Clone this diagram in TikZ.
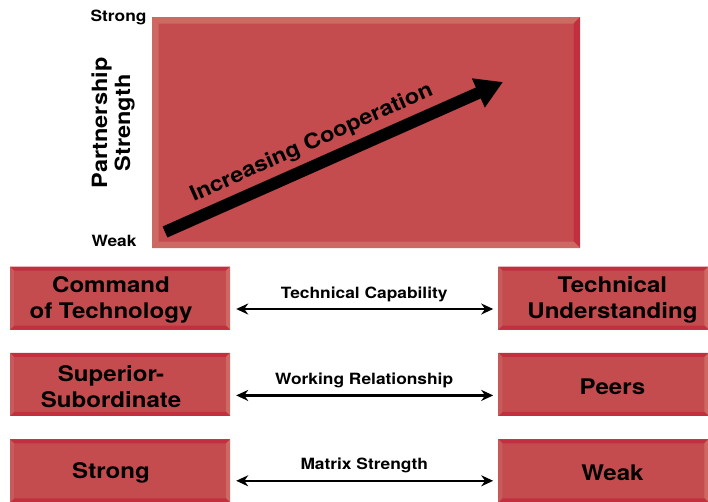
\documentclass[tikz,border=0pt]{standalone}
\usepackage{fontspec}
\setmainfont{TeX Gyre Heros}[FakeStretch=1.12]
\usetikzlibrary{positioning,arrows.meta}
\definecolor{BoxRed}{HTML}{C44B4E}
\definecolor{BevelLight}{HTML}{CD6963}
\definecolor{BevelMid}{HTML}{C95A5B}
\definecolor{BevelDark}{HTML}{C2303F}

\begin{document}
\begin{tikzpicture}[x=1pt,y=-1pt,>=Stealth,node distance=23pt]
  \useasboundingbox (0,0) rectangle (708,501);
  \tikzset{
    bevel/.style n args={5}{fill=BoxRed,path picture={
      \path (path picture bounding box.north west) coordinate (bnw)
            (path picture bounding box.north east) coordinate (bne)
            (path picture bounding box.south east) coordinate (bse)
            (path picture bounding box.south west) coordinate (bsw);
      \fill[#2] (bnw) -- (bne) -- ([shift={(-#1,-#1)}]bne) -- ([shift={(#1,-#1)}]bnw) -- cycle;
      \fill[#3] (bne) -- (bse) -- ([shift={(-#1,#1)}]bse) -- ([shift={(-#1,-#1)}]bne) -- cycle;
      \fill[#4] (bse) -- (bsw) -- ([shift={(#1,#1)}]bsw) -- ([shift={(-#1,#1)}]bse) -- cycle;
      \fill[#5] (bsw) -- (bnw) -- ([shift={(#1,-#1)}]bnw) -- ([shift={(#1,#1)}]bsw) -- cycle;
    }},
    fieldbox/.style={bevel={6.5pt}{BevelLight}{BevelDark}{BevelLight}{BevelLight},
      minimum width=428pt,minimum height=231pt,inner sep=0pt},
    sidebox/.style={bevel={4pt}{BevelDark}{BevelLight}{BevelDark}{BevelMid},
      minimum width=220pt,minimum height=63pt,inner sep=0pt},
    lefttext/.style={label={[boxtext,xshift=-9pt]center:#1}},
    righttext/.style={label={[boxtext,xshift=9pt]center:#1}},
    boxtext/.style={align=center,yshift=-2pt,font=\fontsize{21.5}{26}\selectfont\bfseries},
    linklbl/.style={font=\fontsize{15.5}{18}\selectfont\bfseries},
    pair/.style={{Stealth[length=12pt,width=11pt]}-{Stealth[length=12pt,width=11pt]},
      line width=2.2pt,shorten <=6pt,shorten >=5pt},
    coop/.style={-{Triangle[length=27pt,width=30pt]},line width=12pt}
  }
  \node[fieldbox] (field) at (366,132.5) {};
  \node[sidebox,lefttext={Command\\of Technology}] (cmd) at (120,298) {};
  \node[sidebox,below=of cmd,lefttext={Superior-\\Subordinate}] (sup) {};
  \node[sidebox,below=of sup,lefttext=Strong] (strg) {};
  \node[sidebox,minimum width=210pt,right=268pt of cmd,righttext={Technical\\Understanding}] (und) {};
  \node[sidebox,minimum width=210pt,right=268pt of sup,righttext=Peers] (peer) {};
  \node[sidebox,minimum width=210pt,right=268pt of strg,righttext=Weak] (weak) {};
  % axis of the upper box
  \node[linklbl,anchor=east] (top) at (150,17) {Strong};
  \node[linklbl,anchor=east] (bot) at (140,241) {Weak};
  \node[rotate=90,align=center,font=\fontsize{21}{23}\selectfont\bfseries] (pstr) at (113,123) {Partnership\\Strength};
  \coordinate (coopS) at (165,232);
  \coordinate (coopE) at (503,82);
  \draw[coop] (coopS) -- (coopE)
    node[sloped,pos=0.46,above=2pt,font=\fontsize{21}{24}\selectfont\bfseries] {Increasing Cooperation};
  % links between the columns
  \draw[pair] ([yshift=-11pt]cmd.east) -- ([yshift=-11pt]und.west)
    node[midway,above=3pt,linklbl] {Technical Capability};
  \draw[pair] ([yshift=-11pt]sup.east) -- ([yshift=-11pt]peer.west)
    node[midway,above=3pt,linklbl] {Working Relationship};
  \draw[pair] ([yshift=-10pt]strg.east) -- ([yshift=-10pt]weak.west)
    node[midway,above=3pt,linklbl] {Matrix Strength};
\end{tikzpicture}
\end{document}
